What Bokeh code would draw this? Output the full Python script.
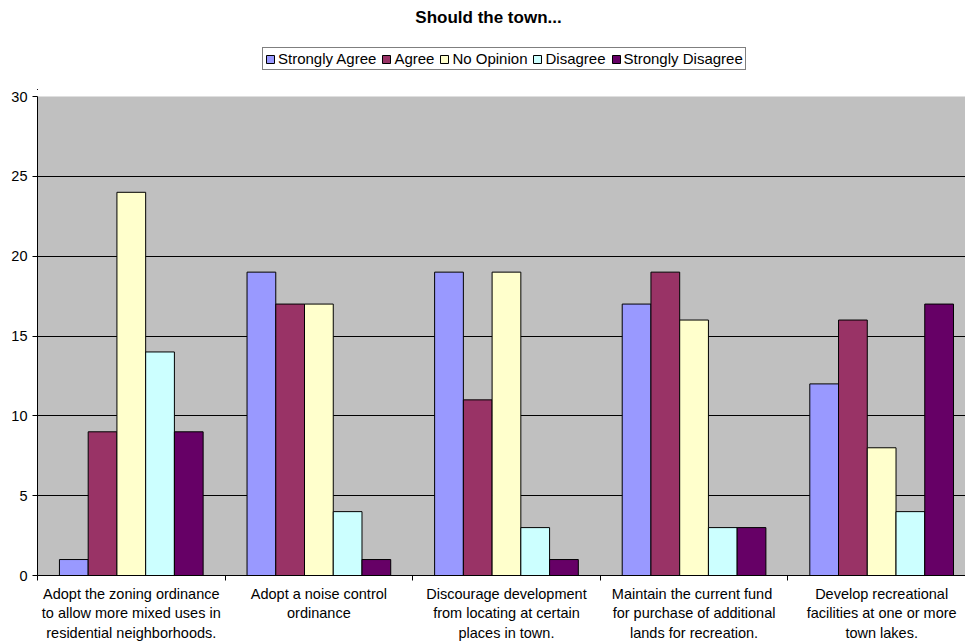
from bokeh.plotting import figure
from bokeh.layouts import column
from bokeh.models import FixedTicker, Legend, LegendItem, ColumnDataSource, Label
from bokeh.embed import file_html
from bokeh.resources import INLINE

categories = [
    "Adopt the zoning ordinance\nto allow more mixed uses in\nresidential neighborhoods.",
    "Adopt a noise control\nordinance",
    "Discourage development\nfrom locating at certain\nplaces in town.",
    "Maintain the current  fund\nfor purchase of additional\nlands for recreation.",
    "Develop recreational\nfacilities at one or more\ntown lakes.",
]
series_names = ["Strongly Agree", "Agree", "No Opinion", "Disagree", "Strongly Disagree"]
strongly_agree = [1, 19, 19, 17, 12]
agree = [9, 17, 11, 19, 16]
no_opinion = [24, 17, 19, 16, 8]
disagree = [14, 4, 3, 3, 4]
strongly_disagree = [9, 1, 1, 3, 17]
series_values = [strongly_agree, agree, no_opinion, disagree, strongly_disagree]
colors = ["#9999FF", "#993366", "#FFFFCC", "#CCFFFF", "#660066"]
title_text = "Should the town..."

FONT = "Liberation Sans"
HEAD_H = 90
LEFT = 37

# ---------- header: title + legend ----------
h = figure(width=965, height=HEAD_H, output_backend="svg", toolbar_location=None,
           x_range=(LEFT, 965), y_range=(0, HEAD_H),
           min_border_left=LEFT, min_border_right=0, min_border_top=0, min_border_bottom=0,
           x_axis_location=None, y_axis_location=None)
h.grid.grid_line_color = None
h.outline_line_color = None
h.background_fill_color = "white"
h.border_fill_color = "white"

items = []
for name, col in zip(series_names, colors):
    # legend-only renderer, placed outside the visible range
    r = h.vbar(x=[-100], top=[1], width=1, fill_color=col, line_color="black", line_width=1)
    items.append(LegendItem(label=name, renderers=[r]))

legend = Legend(items=items, orientation="horizontal", location=(262 - LEFT, HEAD_H - 70),
                glyph_width=10, glyph_height=10, label_text_font=FONT,
                label_text_font_size="15px", label_text_color="black",
                label_standoff=3, spacing=5, padding=2, margin=0,
                border_line_color="black", border_line_width=1,
                label_height=14, background_fill_alpha=1)
h.add_layout(legend, "center")

h.add_layout(Label(x=488, y=HEAD_H - 17, text=title_text, text_align="center",
                   text_baseline="middle", text_font=FONT, text_font_size="17px",
                   text_font_style="bold", text_color="black"))

# ---------- main chart ----------
p = figure(width=965, height=643 - HEAD_H, output_backend="svg", toolbar_location=None,
           x_range=(0, 4.947), y_range=(0, 30),
           min_border_left=LEFT, min_border_right=0, min_border_bottom=65,
           min_border_top=96 - HEAD_H)
p.background_fill_color = "#C0C0C0"
p.border_fill_color = "white"
p.outline_line_color = None

bw = 0.1532
for j, (name, vals, col) in enumerate(zip(series_names, series_values, colors)):
    xs = [i + 0.5 + (j - 2) * bw for i in range(len(categories))]
    src = ColumnDataSource(dict(x=xs, top=vals))
    p.vbar(x="x", top="top", width=bw, source=src, fill_color=col,
           line_color="black", line_width=1)

# y axis
p.yaxis.ticker = FixedTicker(ticks=[0, 5, 10, 15, 20, 25, 30])
p.yaxis.axis_line_color = "black"
p.yaxis.major_tick_line_color = "black"
p.yaxis.major_tick_out = 5
p.yaxis.major_tick_in = 0
p.yaxis.minor_tick_line_color = None
p.yaxis.major_label_text_font = FONT
p.yaxis.major_label_text_font_size = "14.5px"
p.yaxis.major_label_text_color = "black"
p.yaxis.major_label_standoff = 5
p.ygrid.grid_line_color = "black"
p.ygrid.grid_line_width = 1
p.xgrid.grid_line_color = None

# x axis
p.xaxis.ticker = FixedTicker(ticks=[0.5, 1.5, 2.5, 3.5, 4.5], minor_ticks=[0, 1, 2, 3, 4])
p.xaxis.major_label_overrides = {i + 0.5: c for i, c in enumerate(categories)}
p.xaxis.major_tick_line_color = None
p.xaxis.major_tick_out = 0
p.xaxis.major_tick_in = 0
p.xaxis.minor_tick_line_color = "black"
p.xaxis.minor_tick_out = 5
p.xaxis.minor_tick_in = 0
p.xaxis.axis_line_color = "black"
p.xaxis.major_label_text_font = FONT
p.xaxis.major_label_text_font_size = "14.5px"
p.xaxis.major_label_text_line_height = 1.22
p.xaxis.major_label_text_color = "black"
p.xaxis.major_label_standoff = 5

open("out.html", "w").write(file_html(column(h, p, spacing=0), INLINE))
